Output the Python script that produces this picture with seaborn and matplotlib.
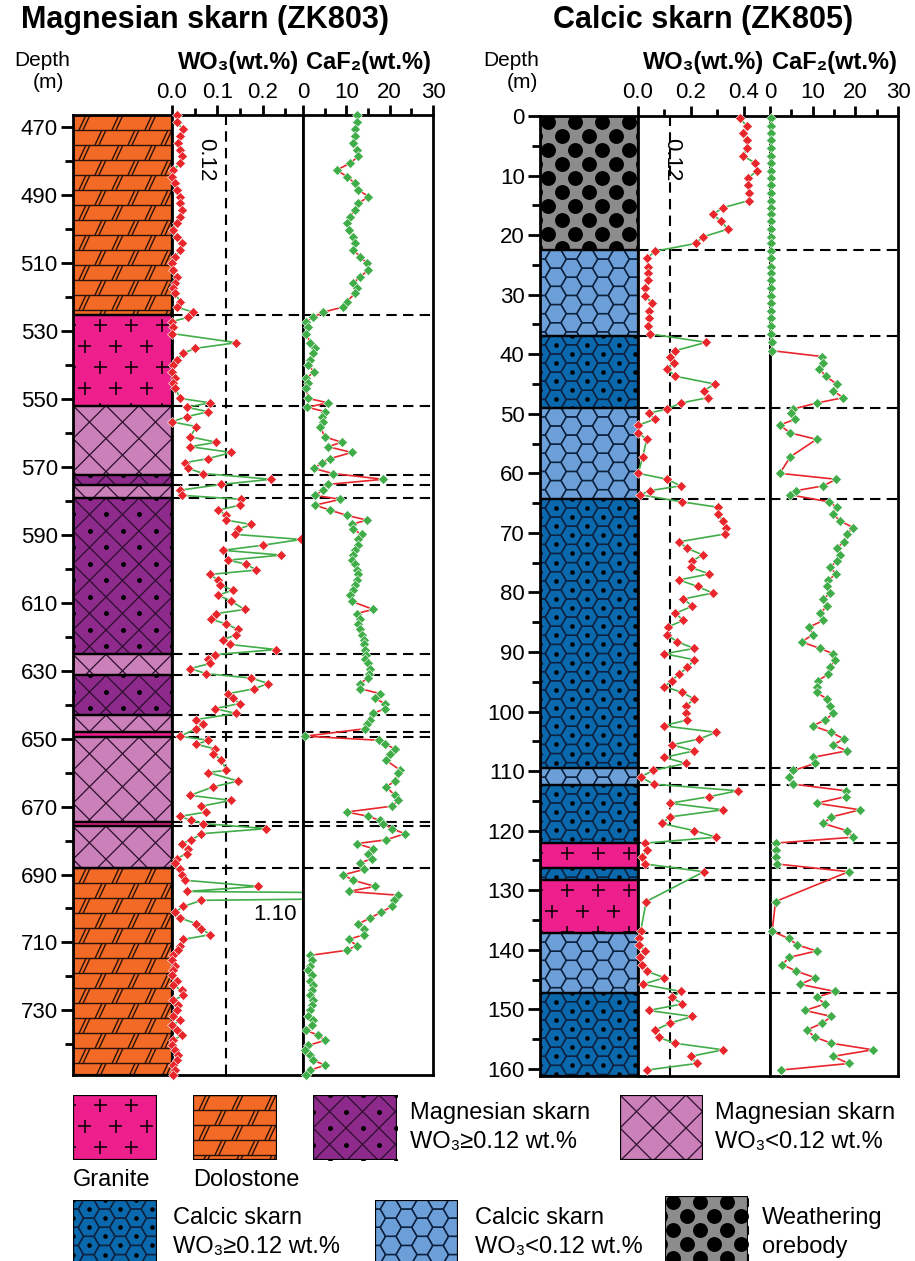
import numpy as np
import pandas as pd
import matplotlib
matplotlib.use("Agg")
import matplotlib.pyplot as plt
import seaborn as sns
from matplotlib.patches import Rectangle
from matplotlib.collections import LineCollection

# ── Data: ZK803 (Magnesian skarn) ────────────────────────────────────────────
d803 = [466.5, 468.7, 470.7, 472.8, 474.8, 476.8, 478.7, 480.7, 482.7, 484.6,
        486.6, 488.6, 490.5, 492.5, 494.4, 496.4, 498.4, 500.3, 502.3, 504.3,
        506.2, 508.2, 510.1, 512.1, 514.1, 516.0, 517.5,
        519.0, 521.4, 523.0, 524.5, 526.0, 527.3, 528.8, 530.8, 533.5, 535.2,
        536.6, 538.6, 540.1, 542.0, 544.0, 545.5, 546.9, 549.9, 551.2, 552.5,
        553.8, 555.3, 556.8, 558.2, 561.2, 562.8, 564.1, 565.8, 567.6, 568.8,
        570.5, 572.0, 573.7, 575.2, 576.9, 578.4, 579.6, 581.3, 582.8, 584.3,
        585.7, 587.0, 588.4, 589.9, 591.4, 593.1,
        594.6, 596.0, 597.5, 598.7, 600.4, 601.7, 603.4, 604.9, 606.3, 607.8,
        609.6, 612.0, 613.2, 614.9, 616.3, 617.9, 619.4, 620.9, 622.3, 623.8,
        625.3, 626.7, 627.9, 629.4, 630.9, 632.2, 633.8, 635.3, 636.8, 638.2,
        639.7, 641.2, 642.6, 644.4, 645.6, 647.1, 649.3, 650.5, 651.7, 653.0,
        654.4, 656.4, 659.3, 660.0, 662.5, 664.2, 666.7,
        668.2, 669.9, 671.6, 672.9, 674.1, 675.0, 676.5, 678.0, 679.8, 680.9,
        682.4, 683.9, 685.3, 686.6, 688.5, 690.1, 691.7, 693.5, 695.0, 696.1,
        697.6, 699.4, 701.1, 702.8, 704.5, 706.0, 707.7, 709.1, 710.9, 712.3,
        713.8, 715.3, 716.8, 718.2, 719.7, 721.2, 722.6, 724.1, 725.6, 727.0,
        728.5, 730.0, 731.5, 732.9, 734.4, 735.9, 737.3, 738.8, 740.3, 741.7,
        743.2, 744.7, 746.1, 747.6, 748.9]
wo3_803 = [0.010, 0.010, 0.025, 0.018, 0.014, 0.018, 0.021, 0.018, 0.003, 0.000,
           0.007, 0.010, 0.018, 0.018, 0.021, 0.018, 0.010, 0.003, 0.010, 0.021,
           0.018, 0.007, 0.000, 0.003, 0.010, 0.007, 0.003,
           0.007, 0.018, 0.010, 0.047, 0.036, 0.000, 0.003, 0.000, 0.142, 0.050,
           0.025, 0.010, 0.003, 0.000, 0.007, 0.003, 0.007, 0.018, 0.084, 0.032,
           0.080, 0.032, 0.000, 0.054, 0.040, 0.098, 0.040, 0.131, 0.080, 0.029,
           0.036, 0.069, 0.219, 0.109, 0.018, 0.021, 0.153, 0.149, 0.102, 0.120,
           0.120, 0.175, 0.146, 0.138, 0.285, 0.200,
           0.113, 0.241, 0.124, 0.164, 0.186, 0.084, 0.102, 0.105, 0.135, 0.102,
           0.131, 0.160, 0.098, 0.087, 0.120, 0.146, 0.142, 0.113, 0.127, 0.230,
           0.094, 0.080, 0.084, 0.040, 0.076, 0.175, 0.212, 0.182, 0.124, 0.135,
           0.149, 0.094, 0.142, 0.054, 0.069, 0.054, 0.018, 0.080, 0.054, 0.094,
           0.091, 0.109, 0.120, 0.080, 0.146, 0.091, 0.040,
           0.130, 0.065, 0.076, 0.018, 0.043, 0.069, 0.208, 0.065, 0.043, 0.021,
           0.035, 0.032, 0.010, 0.007, 0.018, 0.021, 0.029, 0.190, 0.032, 1.100,
           0.065, 0.025, 0.007, 0.018, 0.054, 0.065, 0.084, 0.025, 0.018, 0.014,
           0.003, 0.000, 0.007, 0.003, 0.000, 0.010, 0.003, 0.021, 0.025, 0.003,
           0.014, 0.010, 0.003, 0.018, 0.000, 0.010, 0.021, 0.003, 0.000, 0.007,
           0.014, 0.010, 0.003, 0.007, 0.003]
caf2_803 = [12.4, 12.4, 12.0, 12.0, 11.6, 12.4, 12.8, 10.8, 7.8, 10.1,
            12.0, 12.8, 15.1, 12.8, 12.0, 10.8, 10.1, 10.5, 11.6, 12.0,
            11.6, 13.2, 14.7, 15.1, 13.2, 11.6, 12.4,
            12.0, 10.1, 9.3, 4.7, 2.4, 0.8, 1.2, 0.8, 1.6, 2.8,
            2.4, 1.6, 1.2, 2.5, 0.8, 1.2, 0.8, 1.2, 5.8, 1.0,
            5.1, 4.4, 4.7, 4.0, 5.0, 8.9, 5.8, 11.2, 6.3, 4.4,
            2.5, 6.9, 18.5, 5.8, 4.7, 2.8, 8.6, 2.8, 6.3, 10.1,
            14.7, 11.2, 11.6, 13.5, 12.8, 12.8,
            12.0, 11.6, 11.2, 12.0, 12.4, 12.8, 12.4, 12.0, 11.6, 10.8,
            11.2, 16.2, 12.4, 13.2, 12.8, 13.2, 13.5, 14.1, 14.1, 14.3,
            14.5, 14.3, 15.1, 15.5, 15.3, 14.9, 13.2, 13.2, 17.8, 16.6,
            18.9, 18.9, 16.2, 15.5, 14.8, 14.3, 0.5, 17.5, 19.0, 21.2,
            20.0, 19.2, 22.4, 22.0, 21.2, 19.2, 21.2,
            22.0, 20.5, 10.1, 15.1, 17.8, 18.5, 20.5, 23.5, 19.2, 12.4,
            16.2, 15.1, 15.9, 13.2, 14.1, 9.3, 11.6, 16.6, 10.5, 22.0,
            21.0, 20.5, 18.0, 15.5, 12.8, 14.1, 14.1, 10.5, 12.4, 10.1,
            1.6, 2.0, 1.6, 1.2, 2.0, 1.6, 2.3, 2.0, 1.6, 2.3,
            2.0, 1.6, 1.2, 2.4, 2.0, 0.8, 3.5, 5.1, 1.2, 0.5,
            1.6, 2.4, 5.1, 1.6, 0.8]

top803 = [466.5, 525.5, 552.0, 572.5, 575.4, 579.2, 625.2, 631.4, 643.1,
          648.1, 649.6, 674.6, 675.8, 688.2]
base803 = 749.0
rock803 = ["dolostone", "granite", "mg_low", "mg_high", "mg_low", "mg_high",
           "mg_low", "mg_high", "mg_low", "granite", "mg_low", "granite",
           "mg_low", "dolostone"]

# ── Data: ZK805 (Calcic skarn) ───────────────────────────────────────────────
d805 = [0.4, 1.7, 2.9, 4.0, 5.4, 6.7, 7.9, 9.2, 10.4, 11.6, 13.0, 14.2, 15.4,
        16.5, 17.7, 19.0, 20.3, 21.4, 22.7, 23.9, 25.3, 26.4, 27.6, 28.9,
        30.2, 31.4, 32.7, 34.0, 35.3, 36.6, 38.0, 39.4, 40.4, 41.4, 42.5,
        43.7, 45.0, 46.1, 47.3, 48.2, 49.2, 49.9, 50.9, 51.9, 53.2, 54.3,
        57.2, 60.0, 61.0, 62.1, 62.9, 63.6, 64.8, 65.7, 66.8, 68.0, 69.1,
        70.2, 71.5, 72.6, 73.7, 74.7, 75.8, 76.9, 77.9, 79.0, 80.1, 81.1,
        82.3, 83.5, 84.7, 85.8, 87.1, 88.3, 89.4, 90.3, 91.3, 92.6, 93.7,
        94.8, 95.8, 96.8, 97.9, 99.1, 100.3, 101.4, 102.4, 103.5, 104.6,
        105.6, 106.6, 107.7, 108.7, 109.9, 111.0, 112.2, 113.3, 114.3, 115.4,
        116.5, 117.7, 118.8, 120.0, 121.1, 122.1, 123.2, 124.4, 125.6, 126.9,
        131.9, 136.9, 138.1, 139.2, 140.2, 141.3, 142.5, 143.6, 144.7, 145.8,
        147.0, 148.0, 149.1, 150.2, 151.2, 152.3, 153.5, 154.7, 155.7, 156.8,
        157.9, 159.1, 160.2]
wo3_805 = [0.386, 0.412, 0.399, 0.412, 0.412, 0.399, 0.443, 0.450, 0.418,
           0.418, 0.420, 0.420, 0.322, 0.283, 0.315, 0.341, 0.245, 0.219,
           0.065, 0.033, 0.038, 0.036, 0.036, 0.027, 0.027, 0.053, 0.040,
           0.040, 0.036, 0.046, 0.258, 0.142, 0.123, 0.135, 0.110, 0.142,
           0.290, 0.251, 0.264, 0.162, 0.110, 0.040, 0.065, 0.001, 0.001,
           0.033, 0.018, 0.001, 0.110, 0.162, 0.046, 0.008, 0.168, 0.303,
           0.303, 0.322, 0.335, 0.328, 0.155, 0.187, 0.245, 0.206, 0.200,
           0.270, 0.155, 0.226, 0.283, 0.172, 0.206, 0.142, 0.171, 0.113,
           0.110, 0.149, 0.213, 0.100, 0.213, 0.187, 0.155, 0.129, 0.100,
           0.168, 0.213, 0.181, 0.181, 0.187, 0.097, 0.296, 0.232, 0.129,
           0.213, 0.100, 0.181, 0.056, 0.010, 0.060, 0.377, 0.270, 0.120,
           0.322, 0.120, 0.091, 0.213, 0.296, 0.027, 0.033, 0.016, 0.027,
           0.249, 0.031, 0.010, 0.005, 0.005, 0.027, 0.008, 0.014, 0.033,
           0.100, 0.018, 0.162, 0.129, 0.168, 0.040, 0.206, 0.123, 0.064,
           0.078, 0.140, 0.322, 0.200, 0.222, 0.033]
caf2_805 = [0.2, 0.2, 0.2, 0.2, 0.2, 0.2, 0.2, 0.2, 0.2, 0.2, 0.2, 0.2, 0.2,
            0.2, 0.2, 0.2, 0.2, 0.2, 0.2, 0.2, 0.2, 0.2, 0.2, 0.2, 0.2, 0.2,
            0.2, 0.2, 0.2, 0.2, 0.4, 0.4, 12.3, 12.5, 11.6, 13.1, 15.6, 14.7,
            17.2, 10.9, 5.5, 5.0, 5.9, 2.3, 4.7, 10.9, 4.8, 2.3, 15.5, 12.5,
            6.2, 4.7, 13.9, 15.6, 14.8, 16.4, 19.5, 18.0, 17.3, 15.6, 16.4,
            15.6, 14.1, 15.5, 13.7, 13.4, 14.1, 12.5, 13.4, 11.7, 12.5, 9.2,
            10.0, 7.4, 11.7, 14.8, 15.2, 14.1, 13.7, 11.3, 10.9, 10.9, 13.4,
            14.1, 14.8, 13.0, 10.0, 14.4, 17.3, 14.8, 18.0, 10.0, 10.6, 5.5,
            4.4, 5.5, 17.7, 17.7, 10.9, 21.1, 14.4, 12.5, 18.0, 19.5, 1.3,
            1.3, 1.3, 1.7, 18.4, 1.3, 0.5, 4.4, 6.4, 10.9, 4.4, 2.9, 6.2,
            10.6, 7.0, 15.2, 10.9, 12.9, 8.2, 14.4, 12.3, 8.6, 10.6, 14.4,
            24.1, 14.8, 18.4, 2.6]

top805 = [0.0, 22.5, 36.9, 49.0, 64.3, 109.5, 112.3, 122.1, 126.3, 128.3,
          137.2, 147.2]
base805 = 161.2
rock805 = ["weathering", "cal_low", "cal_high", "cal_low", "cal_high",
           "cal_low", "cal_high", "granite", "cal_high", "granite",
           "cal_low", "cal_high"]

WO3_CUTOFF = 0.12

# ── Style ────────────────────────────────────────────────────────────────────
W, H = 915, 1261
sns.set_theme(style="white")
plt.rcParams["font.family"] = ["Liberation Sans", "DejaVu Sans"]
plt.rcParams["text.color"] = "black"
plt.rcParams["xtick.color"] = "black"
plt.rcParams["ytick.color"] = "black"
NARROW = ["Liberation Sans Narrow", "Liberation Sans", "DejaVu Sans"]

FACE = {"granite": "#ec1f8d", "dolostone": "#f26a25", "mg_low": "#cb80b9",
        "mg_high": "#8f2a8d", "cal_high": "#0a68ad", "cal_low": "#6c9fd7",
        "weathering": "#8c8c8c"}
RED, GREEN = "#e8262b", "#41ad49"
SPINE = 2.0
TICK_FS = 16

fig = plt.figure(figsize=(W / 100, H / 100), dpi=100)


def px_axes(x0, y0, x1, y1):
    return fig.add_axes([x0 / W, 1 - y1 / H, (x1 - x0) / W, (y1 - y0) / H])


def ftext(x, y, s, **kw):
    fig.text(x / W, 1 - y / H, s, **kw)


def draw_pattern(ax, x0, x1, y0, y1, kind, mpp):
    """Fill a rock unit; x in px, y in data units (mpp units per pixel)."""
    rect = Rectangle((x0, y0), x1 - x0, y1 - y0, facecolor=FACE[kind],
                     edgecolor="none", zorder=1)
    ax.add_patch(rect)
    w, h = x1 - x0, (y1 - y0) / mpp
    lines, dots = [], []
    lcol, lw, ds, dcol = "black", 1.0, 10, "black"
    if kind == "granite":
        lw = 1.1
        for r in range(int(h // 21) + 2):
            py = 10 + 21 * r
            for c in range(-1, int(w // 31) + 2):
                px = 11.5 + 31 * c + 15.5 * ((r + 1) % 2)
                lines.append([(px - 6.5, py), (px + 6.5, py)])
                lines.append([(px, py - 6.5), (px, py + 6.5)])
    elif kind == "dolostone":
        rh = 15
        lcol = "#2a1208"
        for r in range(int(h // rh) + 2):
            t = r * rh
            lines.append([(-5, t), (w + 5, t)])
            for c in range(-1, int(w // 33) + 2):
                xb = 6 + 33 * c + 16 * (r % 2)
                lines.append([(xb, t + rh), (xb + 7, t)])
                lines.append([(xb + 4, t + rh), (xb + 11, t)])
    elif kind in ("mg_low", "mg_high"):
        s = 33
        lcol, lw = "#2b0f2b", 0.9
        n = int((w + h) // s) + 2
        for i in range(-n, n + 1):
            c = s * i
            lines.append([(-5, c - 5), (w + 5, w + 5 + c)])
            lines.append([(-5, c + 5), (w + 5, c - w - 5)])
        if kind == "mg_high":
            ds = 13
            for k in range(-1, int(w / (s / 2)) + 2):
                for m in range(-1, int(h / (s / 2)) + 2):
                    if (k + m) % 2:
                        dots.append((k * s / 2, m * s / 2))
    elif kind in ("cal_high", "cal_low"):
        r = 10.5
        lcol, lw = "#0d2240", 1.0
        dx, dy = 1.5 * r, np.sqrt(3) * r
        ang = np.radians(np.arange(0, 361, 60))
        for c in range(-1, int(w / dx) + 2):
            for k in range(-1, int(h / dy) + 2):
                cx, cy = c * dx, (k + 0.5 * (c % 2)) * dy
                lines.append(list(zip(cx + r * np.cos(ang), cy + r * np.sin(ang))))
                if kind == "cal_high":
                    dots.append((cx, cy))
        ds = 11
    elif kind == "weathering":
        ds = 115
        for r in range(-1, int(h // 14) + 2):
            for c in range(-1, int(w // 27) + 2):
                dots.append((8 + 27 * c + 13.5 * (r % 2), 6 + 14 * r))

    if lines:
        segs = [[(x0 + px, y0 + py * mpp) for px, py in ln] for ln in lines]
        lc = LineCollection(segs, colors=lcol, linewidths=lw, zorder=2)
        ax.add_collection(lc)
        lc.set_clip_path(rect)
    if dots:
        dx_ = [x0 + p[0] for p in dots]
        dy_ = [y0 + p[1] * mpp for p in dots]
        sc = ax.scatter(dx_, dy_, s=ds, c=dcol, linewidths=0, zorder=3)
        sc.set_clip_path(rect)
    ax.add_patch(Rectangle((x0, y0), x1 - x0, y1 - y0, fill=False,
                           edgecolor="black", lw=1.6, zorder=4))


def style_frame(ax):
    for sp in ax.spines.values():
        sp.set_linewidth(SPINE)
        sp.set_color("black")
        sp.set_visible(True)


def dashed_h(ax, depths):
    for d in depths:
        ax.axhline(d, color="black", lw=1.5, ls=(0, (5, 3)), zorder=1)


def well(x_lith, x_wo3, x_caf, x_end, y0, y1, depths, wo3, caf2, tops, base,
         rocks, ylim, wo3_max, wo3_major, wo3_minor, ymajor, yminor):
    # lithology column
    lax = px_axes(x_lith, y0, x_wo3, y1)
    col_w = x_wo3 - x_lith
    mpp = (ylim[1] - ylim[0]) / (y1 - y0)
    lax.set_xlim(0, col_w)
    lax.set_ylim(ylim[1], ylim[0])
    bounds = tops[1:] + [base]
    for t, b, k in zip(tops, bounds, rocks):
        draw_pattern(lax, 0, col_w, t, b, k, mpp)
    style_frame(lax)
    lax.set_xticks([])
    lax.set_yticks(ymajor)
    lax.set_yticks(yminor, minor=True)
    lax.tick_params(axis="y", which="major", left=True, length=9, width=SPINE,
                    labelsize=TICK_FS, pad=2, direction="out")
    lax.tick_params(axis="y", which="minor", left=True, length=6, width=SPINE,
                    direction="out")

    df = pd.DataFrame({"depth": depths, "WO3": wo3, "CaF2": caf2})
    # WO3 panel
    wax = px_axes(x_wo3, y0, x_caf, y1)
    sns.lineplot(data=df, x="WO3", y="depth", sort=False, estimator=None,
                 orient="y", color=GREEN, lw=1.2, ax=wax, zorder=3)
    sns.scatterplot(data=df[df["WO3"] <= wo3_max], x="WO3", y="depth",
                    marker="D", s=26, color=RED, edgecolor="white",
                    linewidth=0.4, ax=wax, zorder=4, clip_on=False)
    wax.axvline(WO3_CUTOFF, color="black", lw=1.5, ls=(0, (5, 3)), zorder=1)
    wax.set_xlim(0, wo3_max)
    # CaF2 panel
    cax = px_axes(x_caf, y0, x_end, y1)
    sns.lineplot(data=df, x="CaF2", y="depth", sort=False, estimator=None,
                 orient="y", color=RED, lw=1.2, ax=cax, zorder=3)
    sns.scatterplot(data=df, x="CaF2", y="depth", marker="D", s=26,
                    color=GREEN, edgecolor="white", linewidth=0.4, ax=cax,
                    zorder=4, clip_on=False)
    cax.set_xlim(0, 30)
    for ax, maj, mino in ((wax, wo3_major, wo3_minor),
                          (cax, [0, 10, 20, 30], [5, 15, 25])):
        ax.set_ylim(ylim[1], ylim[0])
        dashed_h(ax, tops[1:])
        style_frame(ax)
        ax.set_xlabel("")
        ax.set_ylabel("")
        ax.set_yticks([])
        ax.xaxis.set_ticks_position("top")
        ax.set_xticks(maj)
        ax.set_xticks(mino, minor=True)
        ax.tick_params(axis="x", which="major", top=True, bottom=False,
                       labeltop=True, labelbottom=False, length=7,
                       width=SPINE, labelsize=TICK_FS, pad=2, direction="out")
        ax.tick_params(axis="x", which="minor", top=True, bottom=False,
                       length=5, width=SPINE, direction="out")
    return lax, wax, cax


# ── Wells ────────────────────────────────────────────────────────────────────
l1, w1, c1 = well(73, 172, 303, 433, 115, 1075, d803, wo3_803, caf2_803,
                  top803, base803, rock803, (466.5, base803), 0.289,
                  [0.0, 0.1, 0.2], [0.05, 0.15, 0.25],
                  list(range(470, 731, 20)), list(range(480, 741, 20)))
w1.set_xticklabels(["0.0", "0.1", "0.2"])
l2, w2, c2 = well(540, 638, 770, 898, 116, 1076, d805, wo3_805, caf2_805,
                  top805, base805, rock805, (0, base805), 0.50,
                  [0.0, 0.2, 0.4], [0.1, 0.3],
                  list(range(0, 161, 10)), list(range(5, 156, 10)))
w2.set_xticklabels(["0.0", "0.2", "0.4"])

# ── Headers ──────────────────────────────────────────────────────────────────
ftext(205, 20, "Magnesian skarn (ZK803)", ha="center", va="center",
      fontsize=22, weight="bold")
ftext(703, 20, "Calcic skarn (ZK805)", ha="center", va="center",
      fontsize=22, weight="bold")
for xd, xm, xw, xc in ((42, 48, 239, 368), (511, 522, 704, 834)):
    ftext(xd, 60, "Depth", ha="center", va="center", fontsize=15)
    ftext(xm, 82, "(m)", ha="center", va="center", fontsize=15)
    ftext(xw, 63, "WO\u2083(wt.%)", ha="center", va="center", fontsize=17,
          weight="bold")
    ftext(xc, 63, "CaF\u2082(wt.%)", ha="center", va="center", fontsize=17,
          weight="bold")
ftext(206, 160, "0.12", ha="center", va="center", fontsize=16, rotation=-90)
ftext(672, 160, "0.12", ha="center", va="center", fontsize=16, rotation=-90)
ftext(275, 915, "1.10", ha="center", va="center", fontsize=16)

# ── Legend ───────────────────────────────────────────────────────────────────
legend_boxes = [("granite", 73, 1095, 157, 1160), ("dolostone", 193, 1095, 277, 1160),
                ("mg_high", 313, 1095, 397, 1160), ("mg_low", 620, 1095, 703, 1160),
                ("cal_high", 73, 1200, 157, 1268), ("cal_low", 375, 1200, 458, 1268),
                ("weathering", 665, 1196, 748, 1268)]
for kind, x0, y0, x1, y1 in legend_boxes:
    bax = px_axes(x0, y0, x1, y1)
    bax.set_xlim(0, x1 - x0)
    bax.set_ylim(y1 - y0, 0)
    bax.axis("off")
    draw_pattern(bax, 0, x1 - x0, 0, y1 - y0, kind, 1.0)

leg_text = [(410, 1113, "Magnesian skarn"), (410, 1142, "WO\u2083\u22650.12 wt.%"),
            (715, 1113, "Magnesian skarn"), (715, 1142, "WO\u2083<0.12 wt.%"),
            (73, 1180, "Granite"), (193, 1180, "Dolostone"),
            (173, 1218, "Calcic skarn"), (173, 1247, "WO\u2083\u22650.12 wt.%"),
            (475, 1218, "Calcic skarn"), (475, 1247, "WO\u2083<0.12 wt.%"),
            (762, 1218, "Weathering"), (762, 1247, "orebody")]
for x, y, s in leg_text:
    ftext(x, y, s, ha="left", va="center", fontsize=17, family=NARROW)

plt.savefig("out.png", dpi=100)
plt.close()
